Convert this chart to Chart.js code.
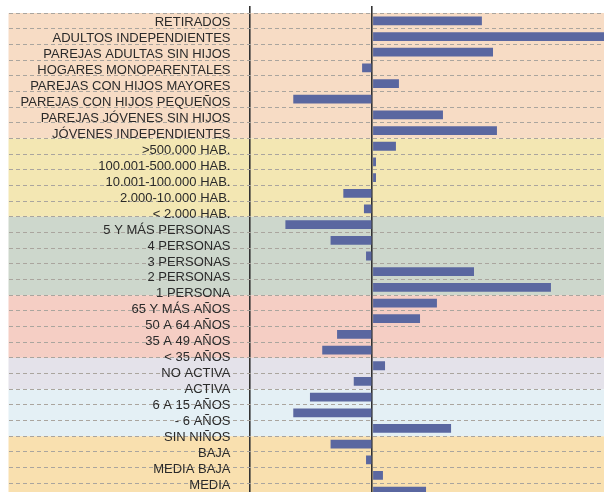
<!DOCTYPE html>
<html>
<head>
<meta charset="utf-8">
<script src="https://cdn.jsdelivr.net/npm/chart.js@4/dist/chart.umd.min.js"></script>
<style>
html,body{margin:0;padding:0;background:#ffffff;overflow:hidden;width:604px;height:492px}
canvas{display:block}
</style>
</head>
<body>
<canvas id="c" width="604" height="512"></canvas>
<script>
// ---- data ----
const CATEGORIES = [
  'RETIRADOS',
  'ADULTOS INDEPENDIENTES',
  'PAREJAS ADULTAS SIN HIJOS',
  'HOGARES MONOPARENTALES',
  'PAREJAS CON HIJOS MAYORES',
  'PAREJAS CON HIJOS PEQUEÑOS',
  'PAREJAS JÓVENES SIN HIJOS',
  'JÓVENES INDEPENDIENTES',
  '>500.000 HAB.',
  '100.001-500.000 HAB.',
  '10.001-100.000 HAB.',
  '2.000-10.000 HAB.',
  '< 2.000 HAB.',
  '5 Y MÁS PERSONAS',
  '4 PERSONAS',
  '3 PERSONAS',
  '2 PERSONAS',
  '1 PERSONA',
  '65 Y MÁS AÑOS',
  '50 A 64 AÑOS',
  '35 A 49 AÑOS',
  '< 35 AÑOS',
  'NO ACTIVA',
  'ACTIVA',
  '6 A 15 AÑOS',
  '- 6 AÑOS',
  'SIN NIÑOS',
  'BAJA',
  'MEDIA BAJA',
  'MEDIA',
  ''            // row cut off at the bottom of the picture
];
const VALUES = [
  47.3, 105, 52.1, -4.4, 11.5, -34.1, 30.5, 53.8,
  10.2, 1.6, 1.6, -12.5, -3.6,
  -37.5, -18.0, -2.7, 43.9, 77.1,
  27.9, 20.6, -15.2, -21.6,
  5.5, -8.0,
  -26.9, -34.1, 34.0,
  -18.0, -2.7, 4.6, 23.2
];
const GROUP_SIZES  = [8, 5, 5, 4, 2, 3, 4];
const GROUP_COLORS = ['#f7dcc5', '#f3e7b3', '#cdd7cc', '#f5cec4', '#e4e2ea', '#e4f0f5', '#f9e0af'];

// ---- layout constants (not data) ----
const X_MIN = -157.0, X_MAX = 100;
const SEPARATOR_X = -52.8;          // value where the label column border sits
const LABEL_MIN = -0.62, LABEL_MAX = 29.87;

const bandsPlugin = {
  id: 'bands',
  beforeDraw(chart) {
    const {ctx, chartArea, scales} = chart;
    const y = scales.y;
    let start = 0;
    ctx.save();
    GROUP_SIZES.forEach((n, g) => {
      const top = y.getPixelForValue(start - 0.5);
      const bot = y.getPixelForValue(start + n - 0.5);
      ctx.fillStyle = GROUP_COLORS[g];
      ctx.fillRect(chartArea.left, top, chartArea.right - chartArea.left, bot - top);
      start += n;
    });
    ctx.restore();
  }
};

new Chart(document.getElementById('c'), {
  type: 'bar',
  data: {
    labels: CATEGORIES,
    datasets: [{
      data: VALUES,
      backgroundColor: '#5a67a0',
      borderWidth: 0,
      barPercentage: 0.56,
      categoryPercentage: 1.0
    }]
  },
  options: {
    indexAxis: 'y',
    responsive: false,
    animation: false,
    layout: { padding: { left: -15.5, right: 0, top: 5.7, bottom: 12.6 } },
    plugins: { legend: { display: false }, tooltip: { enabled: false } },
    scales: {
      x: {
        type: 'linear',
        position: 'top',
        min: X_MIN,
        max: X_MAX,
        z: 1,
        afterBuildTicks: (s) => { s.ticks = [{ value: SEPARATOR_X }, { value: 0 }]; },
        ticks: { display: false },
        grid: { color: '#333333', lineWidth: 1.6, drawTicks: true, tickLength: 7, tickColor: '#333333', tickWidth: 1.6 },
        border: { display: false }
      },
      y: {
        type: 'category',
        position: 'left',
        offset: true,
        ticks: { display: false },
        grid: { color: '#aaa59e', lineWidth: 1, drawTicks: false, offset: true },
        border: { display: false, dash: [4, 3] }
      },
      y2: {
        type: 'linear',
        position: 'left',
        reverse: true,
        offset: false,
        bounds: 'data',
        min: LABEL_MIN,
        max: LABEL_MAX,
        afterBuildTicks: (s) => { s.ticks = CATEGORIES.map((c, i) => ({ value: i })).filter(t => CATEGORIES[t.value] !== ''); },
        ticks: {
          mirror: true,
          crossAlign: 'far',
          padding: 12,
          autoSkip: false,
          color: '#2a2a2a',
          font: { family: "'Liberation Sans', Arial, sans-serif", size: 13, lineHeight: '2px' },
          callback: (v) => CATEGORIES[v]
        },
        grid: { display: false, drawTicks: false, offset: false },
        border: { display: false }
      }
    }
  },
  plugins: [bandsPlugin]
});
</script>
</body>
</html>
